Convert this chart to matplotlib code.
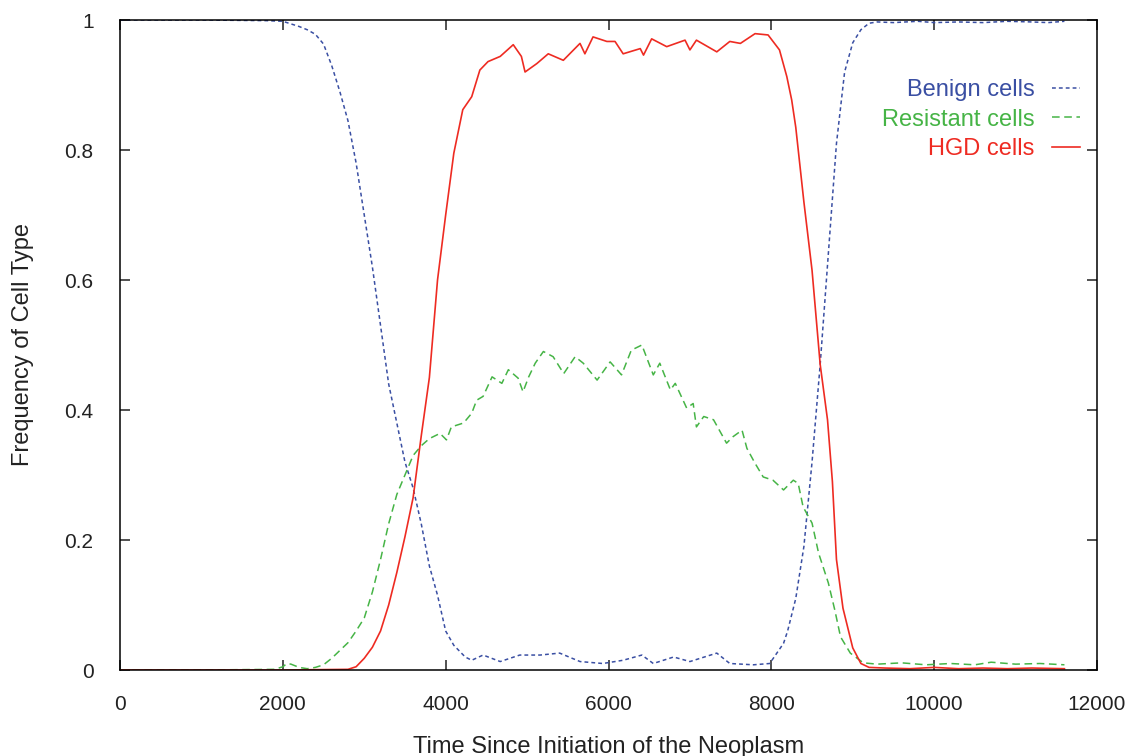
import numpy as np
import matplotlib.pyplot as plt

plt.rcParams['font.family'] = ['Liberation Sans', 'DejaVu Sans']

# Benign cells (blue)
benign_t = [0, 1000, 1800, 2000, 2100, 2200, 2300, 2400, 2500, 2600, 2700, 2800, 2900,
            3000, 3100, 3200, 3300, 3400, 3500, 3600, 3700, 3800, 3900, 4000, 4100,
            4240, 4320, 4460, 4670, 4910, 5160, 5400, 5650, 5930, 6180, 6410, 6550,
            6800, 7000, 7330, 7490, 7780, 7980, 8150, 8200, 8300, 8400, 8500, 8600,
            8700, 8800, 8900, 9000, 9100, 9200, 9300, 9500, 9800, 10000, 10300,
            10600, 10900, 11200, 11400, 11600]
benign_v = [1.0, 1.0, 0.999, 0.998, 0.994, 0.99, 0.985, 0.978, 0.963, 0.93, 0.89, 0.845,
            0.78, 0.70, 0.62, 0.53, 0.44, 0.38, 0.32, 0.28, 0.225, 0.16, 0.115, 0.06,
            0.038, 0.020, 0.015, 0.023, 0.013, 0.023, 0.023, 0.026, 0.013, 0.010,
            0.015, 0.023, 0.010, 0.020, 0.013, 0.026, 0.010, 0.008, 0.010, 0.041,
            0.06, 0.11, 0.19, 0.32, 0.47, 0.64, 0.81, 0.92, 0.965, 0.985, 0.995,
            0.997, 0.996, 0.998, 0.996, 0.997, 0.996, 0.998, 0.997, 0.996, 0.998]

# Resistant cells (green)
resist_t = [0, 1000, 1900, 2000, 2050, 2100, 2200, 2300, 2400, 2500, 2600, 2700, 2800,
            2900, 3000, 3100, 3200, 3300, 3400, 3500, 3600, 3700, 3800, 3930, 4010,
            4070, 4220, 4320, 4380, 4460, 4570, 4690, 4770, 4890, 4950, 5020, 5100,
            5200, 5320, 5450, 5590, 5690, 5860, 6020, 6160, 6280, 6410, 6550, 6630,
            6760, 6820, 6960, 7040, 7080, 7170, 7290, 7450, 7530, 7640, 7700, 7800,
            7900, 8020, 8150, 8270, 8330, 8390, 8500, 8580, 8700, 8780, 8850, 8970,
            9130, 9300, 9600, 9900, 10200, 10500, 10700, 11000, 11300, 11600]
resist_v = [0.0, 0.0, 0.001, 0.005, 0.010, 0.009, 0.004, 0.002, 0.004, 0.008, 0.018,
            0.03, 0.042, 0.06, 0.08, 0.12, 0.17, 0.225, 0.27, 0.30, 0.33, 0.345,
            0.356, 0.364, 0.354, 0.374, 0.380, 0.395, 0.415, 0.421, 0.451, 0.441,
            0.462, 0.449, 0.428, 0.451, 0.472, 0.490, 0.482, 0.456, 0.482, 0.472,
            0.446, 0.474, 0.454, 0.492, 0.500, 0.454, 0.472, 0.431, 0.441, 0.403,
            0.410, 0.374, 0.390, 0.385, 0.349, 0.359, 0.369, 0.341, 0.318, 0.297,
            0.292, 0.277, 0.292, 0.287, 0.251, 0.226, 0.18, 0.134, 0.092, 0.051,
            0.026, 0.011, 0.009, 0.011, 0.008, 0.010, 0.008, 0.012, 0.009, 0.010,
            0.008]

# HGD cells (red)
hgd_t = [0, 1000, 2000, 2800, 2900, 3000, 3100, 3200, 3300, 3400, 3500, 3600, 3700,
         3800, 3900, 4000, 4100, 4210, 4320, 4420, 4520, 4670, 4830, 4930, 4975,
         5120, 5260, 5445, 5650, 5710, 5810, 5980, 6080, 6180, 6390, 6430, 6530,
         6715, 6940, 7000, 7080, 7330, 7490, 7620, 7800, 7960, 8100, 8190, 8250,
         8300, 8400, 8500, 8600, 8690, 8750, 8800, 8880, 9000, 9100, 9200, 9400,
         9700, 10000, 10300, 10600, 10900, 11200, 11600]
hgd_v = [0.0, 0.0, 0.0, 0.001, 0.005, 0.018, 0.035, 0.06, 0.10, 0.15, 0.205, 0.265,
         0.36, 0.45, 0.60, 0.70, 0.795, 0.862, 0.882, 0.923, 0.936, 0.944, 0.962,
         0.944, 0.920, 0.933, 0.948, 0.938, 0.964, 0.948, 0.974, 0.967, 0.967,
         0.948, 0.956, 0.946, 0.971, 0.959, 0.969, 0.954, 0.969, 0.951, 0.967,
         0.964, 0.979, 0.977, 0.954, 0.913, 0.877, 0.835, 0.72, 0.615, 0.47,
         0.385, 0.29, 0.17, 0.095, 0.034, 0.010, 0.004, 0.003, 0.002, 0.004,
         0.002, 0.003, 0.002, 0.003, 0.002]

x_ticks = [0, 2000, 4000, 6000, 8000, 10000, 12000]
y_ticks = [0, 0.2, 0.4, 0.6, 0.8, 1.0]
y_tick_labels = ['0', '0.2', '0.4', '0.6', '0.8', '1']

blue = '#3a4fa3'
green = '#46b446'
red = '#ee2b22'
ink = '#222222'

fig = plt.figure(figsize=(11.26, 7.56), dpi=100)
ax = fig.add_axes([120/1126, 1 - 670/756, 977/1126, 650/756])

ax.plot(benign_t, benign_v, color=blue, lw=1.1, dashes=(2.5, 2), label='Benign cells')
ax.plot(resist_t, resist_v, color=green, lw=1.1, dashes=(5, 3), label='Resistant cells')
ax.plot(hgd_t, hgd_v, color=red, lw=1.2, label='HGD cells')

ax.set_xlim(0, 12000)
ax.set_ylim(0, 1)
ax.set_xticks(x_ticks)
ax.set_xticklabels([str(t) for t in x_ticks])
ax.set_yticks(y_ticks)
ax.set_yticklabels(y_tick_labels)
ax.tick_params(direction='in', length=7, width=1.1, labelsize=15, top=True, right=True,
               colors=ink)
ax.tick_params(axis='x', pad=18)
ax.tick_params(axis='y', pad=19)
for s in ax.spines.values():
    s.set_linewidth(1.1)

# reference cuts this label at the bottom edge; keep it just inside
ax.set_xlabel('Time Since Initiation of the Neoplasm', fontsize=17, labelpad=16, color=ink)
ax.set_ylabel('Frequency of Cell Type', fontsize=17, labelpad=22, color=ink)

leg = ax.legend(loc='upper right', bbox_to_anchor=(960/977, (670 - 79)/650), frameon=False,
                markerfirst=False, fontsize=17, handlelength=1.2, handletextpad=0.72,
                labelspacing=0.32, borderpad=0, borderaxespad=0)
for txt, c in zip(leg.get_texts(), [blue, green, red]):
    txt.set_color(c)

fig.savefig('out.png', dpi=100)
